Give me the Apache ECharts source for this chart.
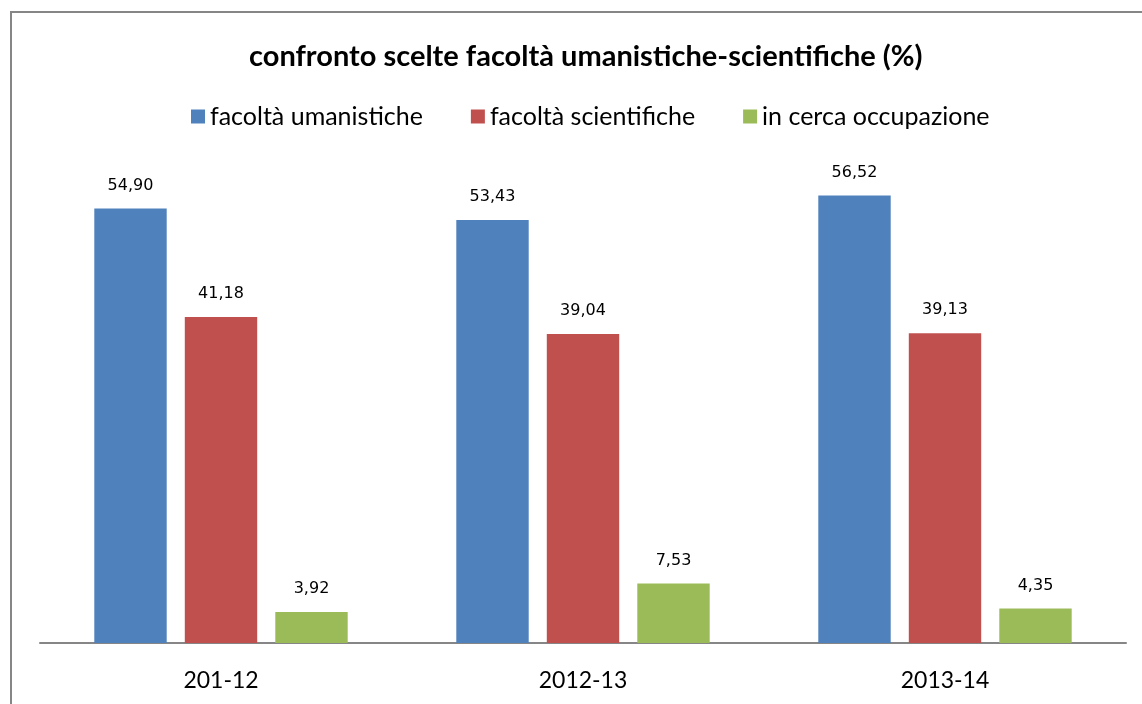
<!DOCTYPE html>
<html>
<head>
	<meta charset="utf-8">
	<title></title>
	<style>
		html, body { margin: 0; padding: 0; background: #fff; }
		#chart { width: 1142px; height: 704px; }
	</style>
</head>
<body>
<div id="chart"></div>
<script src="https://cdn.jsdelivr.net/npm/echarts@6/dist/echarts.min.js"></script>
<script type="text/javascript">
	// dati
	var anni = ['201-12', '2012-13', '2013-14']
	var umanistiche = [54.90, 53.43, 56.52]
	var scientifiche = [41.18, 39.04, 39.13]
	var occupazione = [3.92, 7.53, 4.35]
	var nomiSerie = ['facoltà umanistiche', 'facoltà scientifiche', 'in cerca occupazione']
	var colori = ['#4f81bd', '#c0504d', '#9bbb59']

	var fontTesto = 'Lato'

	function serie(nome, valori, colore) {
		return {
			name: nome,
			type: 'bar',
			data: valori,
			barGap: '25%',
			barCategoryGap: '30%',
			itemStyle: { color: colore },
			label: {
				show: true,
				position: 'top',
				distance: 15,
				color: '#000',
				fontFamily: 'DejaVu Sans',
				fontSize: 16,
				formatter: function (p) { return p.value.toFixed(2).replace('.', ',') }
			}
		}
	}

	var chart = echarts.init(document.getElementById('chart'), null, { renderer: 'canvas' })
	chart.setOption({
		animation: false,
		backgroundColor: '#fff',
		graphic: [{
			type: 'rect',
			shape: { x: 11, y: 12, width: 1300, height: 900 },
			style: { fill: 'none', stroke: '#868686', lineWidth: 2 },
			silent: true
		}],
		title: {
			text: 'confronto scelte facoltà umanistiche-scientifiche (%)',
			left: 244,
			top: 37,
			textStyle: { fontFamily: fontTesto, fontWeight: 'bold', fontSize: 29, color: '#000' }
		},
		legend: {
			data: nomiSerie,
			top: 99,
			left: 186,
			itemWidth: 14,
			itemHeight: 14,
			itemGap: 48,
			icon: 'rect',
			textStyle: { fontFamily: fontTesto, fontSize: 25, color: '#000' }
		},
		grid: { left: 40, right: 16, top: 168, bottom: 61 },
		xAxis: {
			type: 'category',
			data: anni,
			axisLine: { lineStyle: { color: '#868686', width: 2 } },
			axisTick: { show: false },
			axisLabel: { margin: 26, fontFamily: fontTesto, fontSize: 23, color: '#000' }
		},
		yAxis: {
			type: 'value',
			min: 0,
			max: 60,
			show: false,
			splitLine: { show: false }
		},
		series: [
			serie(nomiSerie[0], umanistiche, colori[0]),
			serie(nomiSerie[1], scientifiche, colori[1]),
			serie(nomiSerie[2], occupazione, colori[2])
		]
	})
</script>
</body>
</html>
